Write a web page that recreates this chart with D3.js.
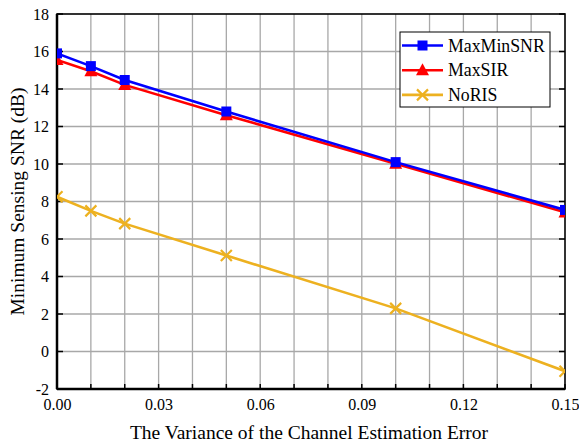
<!DOCTYPE html>
<html><head><meta charset="utf-8">
<script src="https://cdn.jsdelivr.net/npm/d3@7"></script>
<style>body{margin:0;background:#fff;} svg{display:block;} svg text{font-family:"Liberation Serif","Times New Roman",serif !important;}</style>
</head><body>
<svg id="c" width="579" height="445"></svg>
<script>
const xValues = [0, 0.01, 0.02, 0.05, 0.10, 0.15];
const maxMinSNR = [15.9, 15.22, 14.48, 12.8, 10.1, 7.55];
const maxSIR = [15.55, 14.95, 14.22, 12.6, 10.02, 7.42];
const noRIS = [8.25, 7.5, 6.82, 5.12, 2.3, -1.05];
const seriesNames = ["MaxMinSNR", "MaxSIR", "NoRIS"];
const xTickLabels = ["0.00", "0.03", "0.06", "0.09", "0.12", "0.15"];
const yTicks = [-2, 0, 2, 4, 6, 8, 10, 12, 14, 16, 18];

const svg = d3.select("#c");
const L = 57, R = 565, T = 14, B = 389;
const x = d3.scaleLinear().domain([0, 0.15]).range([L, R]);
const y = d3.scaleLinear().domain([-2, 18]).range([B, T]);

const series = [
  {name: seriesNames[0], vals: maxMinSNR, color: "#0000ff", marker: "square"},
  {name: seriesNames[1], vals: maxSIR, color: "#ff0000", marker: "triangle"},
  {name: seriesNames[2], vals: noRIS, color: "#EDB120", marker: "x"}
];

// grid
const xGrid = d3.range(0, 16).map(i => i / 100);
svg.append("g").selectAll("line").data(xGrid.slice(1, -1)).join("line")
  .attr("x1", d => x(d)).attr("x2", d => x(d)).attr("y1", T).attr("y2", B)
  .attr("stroke", "#a8a8a8").attr("stroke-width", 1.3);
svg.append("g").selectAll("line").data(yTicks.slice(1, -1)).join("line")
  .attr("y1", d => y(d)).attr("y2", d => y(d)).attr("x1", L).attr("x2", R)
  .attr("stroke", "#a8a8a8").attr("stroke-width", 1.3);

// axes
const xAx = d3.axisBottom(x).tickValues(xTickLabels.map(Number)).tickFormat((d, i) => xTickLabels[i]).tickSize(0).tickPadding(10);
const gx = svg.append("g").attr("transform", `translate(0,${B})`).call(xAx)
  .attr("font-family", "Liberation Serif").attr("font-size", 16);
gx.select(".domain").remove();
gx.selectAll("text").attr("fill", "#000");

const yAx = d3.axisLeft(y).tickValues(yTicks).tickFormat(d => String(d)).tickSize(0).tickPadding(8);
const gy = svg.append("g").attr("transform", `translate(${L},0)`).call(yAx)
  .attr("font-family", "Liberation Serif").attr("font-size", 16);
gy.select(".domain").remove();
gy.selectAll("text").attr("fill", "#000");

// tick marks inward
const tk = svg.append("g").attr("stroke", "#000").attr("stroke-width", 1.5);
xGrid.forEach(d => {
  tk.append("line").attr("x1", x(d)).attr("x2", x(d)).attr("y1", B).attr("y2", B - 5);
});
yTicks.forEach(d => {
  tk.append("line").attr("x1", L).attr("x2", L + 6).attr("y1", y(d)).attr("y2", y(d));
  tk.append("line").attr("x1", R).attr("x2", R - 6).attr("y1", y(d)).attr("y2", y(d));
});

// frame
svg.append("rect").attr("x", L).attr("y", T).attr("width", R - L).attr("height", B - T)
  .attr("fill", "none").attr("stroke", "#000").attr("stroke-width", 1.6);
svg.append("line").attr("x1", L).attr("x2", R).attr("y1", B).attr("y2", B).attr("stroke", "#000").attr("stroke-width", 2.5);
svg.append("line").attr("x1", L).attr("x2", L).attr("y1", T).attr("y2", B).attr("stroke", "#000").attr("stroke-width", 2.5);

// clip
svg.append("defs").append("clipPath").attr("id", "clip").append("rect")
  .attr("x", L).attr("y", T).attr("width", R - L).attr("height", B - T);

function drawMarker(g, type, cx, cy, color) {
  if (type === "square") {
    g.append("rect").attr("x", cx - 5).attr("y", cy - 5).attr("width", 10).attr("height", 10).attr("fill", color);
  } else if (type === "triangle") {
    g.append("path").attr("d", `M${cx},${cy - 7}L${cx + 6.5},${cy + 5}L${cx - 6.5},${cy + 5}Z`).attr("fill", color);
  } else {
    const s = 5.5;
    g.append("path").attr("d", `M${cx - s},${cy - s}L${cx + s},${cy + s}M${cx - s},${cy + s}L${cx + s},${cy - s}`)
      .attr("stroke", color).attr("stroke-width", 2.2).attr("fill", "none");
  }
}

const plot = svg.append("g").attr("clip-path", "url(#clip)");
const line = d3.line().x((d, i) => x(xValues[i])).y(d => y(d));
[series[2], series[1], series[0]].forEach(s => {
  plot.append("path").datum(s.vals).attr("d", line).attr("fill", "none")
    .attr("stroke", s.color).attr("stroke-width", 2.6);
  s.vals.forEach((v, i) => drawMarker(plot, s.marker, x(xValues[i]), y(v), s.color));
});

// legend
const lg = svg.append("g");
lg.append("rect").attr("x", 400).attr("y", 32).attr("width", 150).attr("height", 75)
  .attr("fill", "#fff").attr("stroke", "#000").attr("stroke-width", 1);
series.forEach((s, i) => {
  const yy = 45.5 + i * 24.7;
  lg.append("line").attr("x1", 402).attr("x2", 443).attr("y1", yy).attr("y2", yy)
    .attr("stroke", s.color).attr("stroke-width", 2.6);
  drawMarker(lg, s.marker, 422.5, yy, s.color);
  lg.append("text").attr("x", 448).attr("y", yy + 6).attr("font-size", 17.8).text(s.name);
});

// titles
svg.append("text").attr("x", 309).attr("y", 439).attr("text-anchor", "middle").attr("font-size", 19.5)
  .text("The Variance of the Channel Estimation Error");
svg.append("text").attr("transform", `translate(24,${(T + B) / 2}) rotate(-90)`).attr("text-anchor", "middle")
  .attr("font-size", 19.5).text("Minimum Sensing SNR (dB)");
</script>
</body></html>
